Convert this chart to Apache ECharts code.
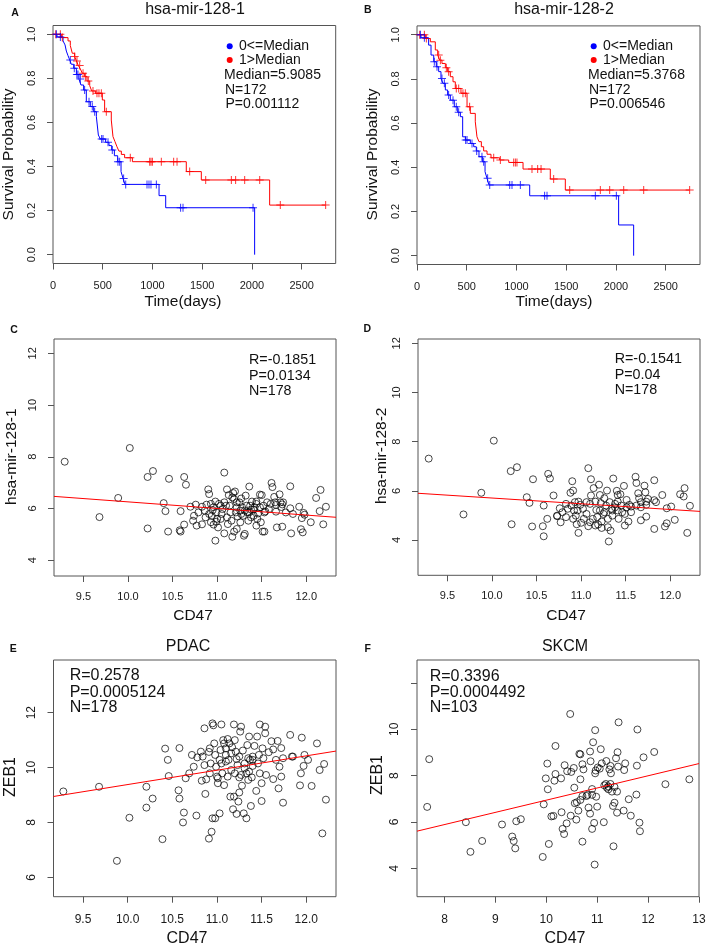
<!DOCTYPE html>
<html><head><meta charset="utf-8">
<script src="https://cdn.jsdelivr.net/npm/echarts@6/dist/echarts.min.js"></script>
<style>html,body{margin:0;padding:0;background:#fff}#c{width:707px;height:947px}</style>
</head><body><div id="c"></div>
<script>
// ---------------- DATA ----------------
// Kaplan-Meier step curves (time in days, survival probability)
const kmA_redT  = [0,84,151,174,194,218,235,255,275,295,318,342,369,389,429,496,519,586,603,623,643,663,687,720,798,1340,1491,2178,2741];
const kmA_redS  = [1.0,0.985,0.970,0.949,0.914,0.899,0.879,0.858,0.843,0.823,0.808,0.788,0.767,0.743,0.732,0.702,0.649,0.611,0.536,0.513,0.490,0.470,0.455,0.440,0.422,0.377,0.339,0.225,0.225];
const kmA_redC  = [27,74,94,218,241,268,302,328,355,402,442,462,486,536,777,972,985,999,1089,1213,1247,1374,1535,1793,1836,1927,2078,2285,2741];
const kmA_blueT = [0,40,101,121,134,151,168,184,208,235,261,281,308,335,375,409,436,456,476,529,563,590,617,650,684,704,724,1066,1133,2027];
const kmA_blueS = [1.0,0.988,0.970,0.952,0.924,0.903,0.884,0.864,0.846,0.818,0.797,0.770,0.747,0.694,0.672,0.649,0.626,0.543,0.525,0.510,0.495,0.475,0.449,0.422,0.377,0.346,0.319,0.268,0.213,0.0];
const kmA_blueC = [34,74,174,214,240,251,275,318,362,395,419,489,503,553,596,653,670,710,731,945,965,985,1039,1283,1307,2011];

const kmB_redT  = [0,84,134,184,208,228,251,285,308,335,362,385,442,503,536,586,603,623,647,670,704,744,831,922,1066,1340,1491,2741];
const kmB_redS  = [1.0,0.983,0.968,0.931,0.908,0.885,0.870,0.851,0.833,0.810,0.787,0.757,0.735,0.674,0.644,0.606,0.538,0.516,0.493,0.474,0.459,0.443,0.433,0.422,0.392,0.347,0.297,0.297];
const kmB_redC  = [27,74,94,218,235,295,318,395,419,462,486,529,771,838,972,989,1005,1156,1213,1247,1374,1535,1843,1937,2078,2279,2741];
const kmB_blueT = [0,40,117,141,168,194,218,241,261,285,308,335,375,409,436,459,486,536,570,596,623,657,684,704,724,1133,2027,2178];
const kmB_blueS = [1.0,0.986,0.953,0.908,0.878,0.855,0.833,0.802,0.780,0.750,0.727,0.704,0.674,0.649,0.629,0.538,0.523,0.508,0.493,0.474,0.448,0.425,0.380,0.350,0.320,0.271,0.139,0.0];
const kmB_blueC = [34,74,174,201,251,275,318,362,395,419,489,503,553,600,653,670,710,731,932,955,1039,1283,1307,1793,2004];

// Scatter points [CD47, expression]
const ptsC = [
[9.29,7.81],[9.68,5.67],[9.89,6.41],[10.02,8.34],[10.22,7.22],[10.28,7.45],[10.22,5.23],[10.40,6.21],[10.42,5.90],[10.46,7.15],
[10.45,5.11],[10.63,7.22],[10.65,6.92],[10.59,5.90],[10.58,5.16],[10.59,5.11],[10.63,5.38],[10.70,6.07],[10.73,5.53],[10.76,6.15],
[10.74,5.72],[10.77,5.34],[10.79,5.85],[10.83,5.39],[10.83,6.07],[10.86,5.92],[10.88,6.15],[10.90,6.74],[10.91,6.56],[10.93,6.18],
[10.95,5.94],[10.93,5.47],[10.96,5.38],[10.98,4.76],[10.98,6.27],[10.99,5.85],[11.00,5.60],[11.01,5.27],[11.04,6.11],[11.05,5.79],
[11.08,7.39],[11.08,5.04],[11.08,6.24],[11.11,6.74],[11.13,6.52],[11.14,6.11],[11.15,5.85],[11.16,5.53],[11.17,4.91],[11.18,6.60],
[11.19,6.37],[11.20,6.66],[11.22,6.05],[11.19,5.11],[11.22,5.21],[11.23,5.69],[11.25,6.24],[11.26,5.92],[11.26,5.47],[11.27,6.39],
[11.29,5.72],[11.30,4.95],[11.31,5.02],[11.32,6.50],[11.33,6.11],[11.34,5.85],[11.35,5.53],[11.36,6.85],[11.37,6.11],[11.38,5.66],
[11.39,6.27],[11.41,5.96],[11.42,6.05],[11.44,5.34],[11.44,6.27],[11.46,5.81],[11.48,6.54],[11.50,6.52],[11.49,5.47],[11.51,5.11],
[11.53,5.11],[11.52,6.11],[11.54,5.89],[11.56,6.24],[11.58,5.98],[11.61,6.99],[11.62,6.83],[11.64,6.45],[11.65,6.24],[11.66,5.88],
[11.67,5.27],[11.70,6.55],[11.71,6.24],[11.72,6.06],[11.73,6.16],[11.73,5.30],[11.82,6.86],[11.82,6.01],[11.83,5.04],[11.85,5.79],
[11.92,6.07],[11.94,5.20],[11.96,5.08],[11.95,5.63],[11.97,5.83],[11.98,5.76],[12.05,5.47],[12.11,6.41],[12.15,5.90],[12.16,6.72],
[12.19,5.39],[12.22,6.07],
[10.87,5.66],[10.91,5.79],[10.96,6.05],[11.02,6.18],[11.06,5.98],[11.11,5.66],[11.12,5.40],[11.21,5.85],[11.28,6.05],[11.31,5.92],
[11.38,5.96],[11.41,5.72],[11.45,5.60],[11.48,6.05],[11.53,5.85],[11.60,6.18],[11.66,6.14],[11.74,6.24],[11.77,5.85],[11.22,6.24],
[11.17,6.43],[11.04,5.60],[10.94,5.72],[10.99,5.49],[11.10,6.11],[11.27,5.79],[11.36,5.85],[11.44,6.18]
];
const ptsD = [
[9.29,7.31],[9.68,5.04],[9.88,5.92],[10.02,8.04],[10.21,6.80],[10.28,6.96],[10.22,4.64],[10.39,5.74],[10.42,5.51],[10.46,6.47],
[10.45,4.55],[10.63,6.69],[10.65,6.50],[10.58,5.40],[10.57,4.56],[10.58,4.15],[10.62,4.86],[10.69,5.81],[10.73,4.97],[10.76,5.29],
[10.73,4.99],[10.77,4.72],[10.79,5.13],[10.83,4.93],[10.83,5.47],[10.88,5.92],[10.90,6.39],[10.91,6.01],[10.93,5.54],[10.92,5.20],
[10.94,4.99],[10.95,4.64],[10.97,4.29],[10.97,5.56],[10.99,5.43],[11.00,4.70],[11.03,4.86],[11.08,6.92],[11.08,4.56],[11.11,6.47],
[11.11,5.81],[11.14,6.11],[11.16,5.56],[11.17,5.22],[11.18,4.93],[11.19,4.63],[11.20,6.25],[11.21,5.83],[11.22,5.50],[11.23,4.75],
[11.25,5.06],[11.26,5.70],[11.28,5.40],[11.29,6.01],[11.30,4.52],[11.31,3.94],[11.33,4.38],[11.36,6.50],[11.34,5.27],[11.35,4.99],
[11.38,5.47],[11.40,6.00],[11.41,5.56],[11.42,4.86],[11.44,5.86],[11.46,5.13],[11.48,6.20],[11.49,4.59],[11.51,5.63],[11.53,4.75],
[11.54,5.43],[11.56,5.36],[11.61,6.57],[11.62,6.32],[11.64,5.90],[11.65,5.70],[11.67,5.33],[11.67,4.80],[11.71,6.21],[11.72,5.94],
[11.73,5.56],[11.73,5.43],[11.73,4.95],[11.82,6.43],[11.82,5.62],[11.82,4.45],[11.84,5.54],[11.91,5.83],[11.94,4.55],[11.96,4.68],
[11.96,5.29],[12.01,5.36],[12.05,4.82],[12.11,5.86],[12.15,5.77],[12.16,6.11],[12.19,4.29],[12.22,5.39],
[10.85,5.27],[10.89,5.40],[10.96,5.20],[11.02,5.27],[11.06,5.06],[11.10,5.47],[11.13,4.86],[11.21,5.20],[11.26,5.13],[11.32,5.54],
[11.38,5.33],[11.41,5.20],[11.45,5.40],[11.49,5.06],[11.56,5.13],[11.62,5.40],[11.67,5.54],[11.75,5.67],[11.06,5.54],[11.16,4.59],
[11.23,4.49],[11.35,5.20],[11.30,4.86],[11.41,5.83],[11.51,5.33],[10.91,4.86],[11.10,4.72]
];
const ptsE = [
[9.28,9.13],[9.68,9.30],[10.02,8.17],[9.88,6.60],[10.21,9.30],[10.21,8.54],[10.28,8.87],[10.39,7.39],[10.42,10.69],[10.45,10.28],
[10.46,9.69],[10.57,9.17],[10.58,10.71],[10.58,8.87],[10.63,8.36],[10.62,8.00],[10.65,9.61],[10.69,9.79],[10.72,10.46],[10.74,10.03],
[10.77,8.25],[10.78,10.37],[10.82,10.58],[10.83,9.52],[10.84,10.40],[10.86,10.09],[10.87,9.04],[10.86,11.43],[10.88,9.57],[10.91,10.57],
[10.92,9.79],[10.92,10.70],[10.91,7.41],[10.94,7.66],[10.95,11.61],[10.96,11.54],[10.97,10.88],[10.98,8.15],[10.95,8.15],[10.98,10.46],
[10.99,10.03],[11.00,9.67],[11.01,9.43],[11.03,10.28],[11.04,10.64],[11.05,11.57],[11.06,9.79],[11.08,9.36],[11.08,10.88],[11.10,10.22],
[11.10,10.70],[11.12,11.04],[11.13,10.28],[11.15,8.94],[11.16,9.91],[11.17,10.74],[11.18,8.48],[11.19,8.94],[11.19,11.57],[11.20,11.00],
[11.22,10.31],[11.22,8.31],[11.24,8.76],[11.25,9.09],[11.25,9.64],[11.26,11.31],[11.27,11.49],[11.28,9.34],[11.29,10.62],[11.30,8.33],
[11.31,10.15],[11.33,8.15],[11.33,9.79],[11.34,10.82],[11.35,10.34],[11.36,11.13],[11.37,10.28],[11.38,8.60],[11.39,9.64],[11.40,10.40],
[11.42,10.79],[11.44,9.15],[11.45,11.13],[11.47,10.46],[11.48,11.57],[11.50,8.78],[11.51,10.70],[11.50,9.43],[11.52,10.34],[11.54,11.49],
[11.54,11.25],[11.55,9.73],[11.58,10.56],[11.61,10.96],[11.63,10.66],[11.63,9.58],[11.66,10.28],[11.68,10.97],[11.69,9.24],[11.70,10.03],
[11.72,10.71],[11.72,9.67],[11.74,8.72],[11.74,10.34],[11.82,11.19],[11.84,10.40],[11.85,10.40],[11.93,9.35],[11.94,9.79],[11.95,11.09],
[11.97,10.06],[11.98,10.46],[12.02,10.28],[12.06,9.33],[12.12,10.88],[12.15,9.91],[12.18,7.60],[12.20,10.13],[12.22,8.83],
[11.10,10.46],[11.16,10.52],[11.21,10.58],[11.23,10.09],[11.31,9.97],[11.36,9.85],[11.40,10.06],[11.05,10.15],[11.12,9.67],[11.07,11.00],
[11.14,10.88],[11.27,9.73],[11.40,10.28],[11.48,9.79],[11.25,10.40],[11.01,9.61],[10.93,10.15],[11.20,9.79],[11.35,9.55],[11.46,10.15],
[11.03,8.33]
];
const ptsF = [
[7.70,8.71],[7.66,6.65],[8.42,5.99],[8.51,4.71],[8.74,5.18],[9.13,5.89],[9.33,5.37],[9.36,5.18],[9.39,4.86],[9.41,6.03],
[9.50,6.12],[9.93,4.49],[9.95,6.76],[9.99,7.88],[10.02,8.52],[10.03,7.41],[10.05,5.05],[10.10,6.24],[10.14,6.26],[10.18,9.28],
[10.18,8.07],[10.16,7.78],[10.29,7.88],[10.30,6.42],[10.32,5.70],[10.35,5.48],[10.36,8.45],[10.40,5.94],[10.41,8.19],[10.48,6.27],
[10.47,10.66],[10.49,8.16],[10.54,8.33],[10.55,7.48],[10.56,6.81],[10.59,6.10],[10.60,6.85],[10.63,6.49],[10.65,8.94],[10.67,8.92],
[10.67,7.84],[10.67,6.95],[10.71,8.49],[10.71,5.15],[10.73,8.27],[10.71,7.12],[10.81,7.17],[10.83,6.62],[10.86,6.36],[10.87,8.62],
[10.86,9.04],[10.90,7.42],[10.90,7.17],[10.90,5.70],[10.92,9.44],[10.94,5.96],[10.95,4.16],[10.96,9.96],[10.96,8.10],[10.97,8.22],
[10.98,7.09],[11.00,6.66],[11.05,8.30],[11.07,9.14],[11.09,8.53],[11.13,5.99],[11.14,7.58],[11.17,7.64],[11.18,8.63],[11.19,7.48],
[11.22,7.53],[11.24,8.27],[11.26,8.42],[11.27,8.10],[11.31,6.69],[11.32,4.95],[11.34,6.83],[11.34,7.51],[11.37,8.75],[11.39,7.31],
[11.40,9.01],[11.39,6.40],[11.42,10.30],[11.41,8.39],[11.52,6.49],[11.53,8.24],[11.55,8.53],[11.62,6.98],[11.66,6.27],[11.77,7.18],
[11.78,8.43],[11.79,9.99],[11.83,5.97],[11.84,5.60],[11.91,8.79],[12.12,9.02],[12.34,7.63],[12.81,7.84],[11.22,7.41],[11.29,7.31],
[11.26,7.64],[11.01,8.35],[10.79,7.12]
];
// regression lines [intercept, slope]
const fitC = [8.811, -0.2553];
const fitD = [8.039, -0.2332];
const fitE = [4.148, 0.5232];
const fitF = [1.674, 0.5266];

// tick values
const ticksKMx = [0,500,1000,1500,2000,2500];
const ticksKMy = [0,0.2,0.4,0.6,0.8,1.0];
const ticksCDx = [9.5,10,10.5,11,11.5,12];
const ticksCDy = [4,6,8,10,12];
const ticksEy  = [6,8,10,12];
const ticksFx  = [8,9,10,11,12,13];
const ticksFy  = [4,6,8,10,12];
const labelsFy = [4,6,8,10];

// texts
const titles = ['hsa-mir-128-1','hsa-mir-128-2','PDAC','SKCM'];
const legendKM = ['0<=Median','1>Median'];
const statsA = ['Median=5.9085','N=172','P=0.001112'];
const statsB = ['Median=5.3768','N=172','P=0.006546'];
const statsC = ['R=-0.1851','P=0.0134','N=178'];
const statsD = ['R=-0.1541','P=0.04','N=178'];
const statsE = ['R=0.2578','P=0.0005124','N=178'];
const statsF = ['R=0.3396','P=0.0004492','N=103'];

// ---------------- CHART ----------------
const FONT = "'Liberation Sans', Arial, Helvetica, sans-serif";
const BOX = '#555555';
const RED = '#ff0000', BLUE = '#0000ff';
const PLUS = 'path://M3.5,0h1v3.5h3.5v1h-3.5v3.5h-1v-3.5h-3.5v-1h3.5z';

const grids = [
  {left:53,   top:25.5, width:282.7, height:238},
  {left:417,  top:25.9, width:283,   height:238.6},
  {left:54,   top:339,  width:282,   height:237},
  {left:418,  top:339,  width:282,   height:236.3},
  {left:53.5, top:660,  width:282.5, height:236.7},
  {left:417,  top:660,  width:282,   height:236.7}
].map(g => Object.assign({show:true, borderColor:BOX, borderWidth:1, backgroundColor:'transparent', containLabel:false, outerBoundsMode:'none'}, g));

const f1 = v => Number(v).toFixed(1);
const f0 = v => String(Math.round(v));

function mkX(gi, min, max, ticks, fmt, fs, margin){
  return {type:'value', gridIndex:gi, min:min, max:max, position:'bottom',
    axisLine:{show:false, onZero:false}, splitLine:{show:false},
    axisTick:{show:true, inside:false, length:6, customValues:ticks, lineStyle:{color:BOX, width:1}},
    axisLabel:{show:true, customValues:ticks, formatter:fmt, fontSize:fs, fontFamily:FONT, color:'#1a1a1a', margin:margin}};
}
function mkY(gi, min, max, ticks, labels, fmt, fs, margin){
  return {type:'value', gridIndex:gi, min:min, max:max, position:'left',
    axisLine:{show:false, onZero:false}, splitLine:{show:false},
    axisTick:{show:true, inside:false, length:6, customValues:ticks, lineStyle:{color:BOX, width:1}},
    axisLabel:{show:true, customValues:labels, formatter:fmt, rotate:90, fontSize:fs, fontFamily:FONT, color:'#1a1a1a', margin:margin}};
}

const xAxes = [
  mkX(0, 0, 2842, ticksKMx, f0, 11, 16.5),
  mkX(1, 0, 2845, ticksKMx, f0, 11, 16.5),
  mkX(2, 9.17, 12.333, ticksCDx, f1, 11, 15.5),
  mkX(3, 9.17, 12.333, ticksCDx, f1, 11, 15.5),
  mkX(4, 9.17, 12.333, ticksCDx, f1, 12, 17),
  mkX(5, 7.46, 13.0, ticksFx, f0, 12, 17)
];
const yAxes = [
  mkY(0, -0.04, 1.04, ticksKMy, ticksKMy, f1, 11, 15.5),
  mkY(1, -0.04, 1.04, ticksKMy, ticksKMy, f1, 11, 15.5),
  mkY(2, 3.393, 12.553, ticksCDy, ticksCDy, f0, 11, 15.5),
  mkY(3, 2.564, 12.175, ticksCDy, ticksCDy, f0, 11, 15.5),
  mkY(4, 5.293, 13.92, ticksEy, ticksEy, f0, 12, 15.5),
  mkY(5, 2.774, 12.99, ticksFy, labelsFy, f0, 12, 16.5)
];

function survAt(T, S, t){ let s = S[0]; for (let i = 0; i < T.length; i++){ if (T[i] <= t) s = S[i]; } return s; }

const series = [];
function km(gi, T, S, C, color){
  series.push({type:'line', xAxisIndex:gi, yAxisIndex:gi, step:'end', symbol:'none', showSymbol:false,
    data:T.map((t,i)=>[t,S[i]]), lineStyle:{color:color, width:1}, itemStyle:{color:color}, silent:true, animation:false, z:2});
  series.push({type:'scatter', xAxisIndex:gi, yAxisIndex:gi, symbol:PLUS, symbolSize:8,
    data:C.map(t=>[t, survAt(T,S,t)]), itemStyle:{color:color}, silent:true, animation:false, z:3});
}
function sc(gi, pts, fit, xmin, xmax){
  series.push({type:'scatter', xAxisIndex:gi, yAxisIndex:gi, symbol:'circle', symbolSize:7, data:pts,
    itemStyle:{color:'rgba(0,0,0,0)', borderColor:'#000', borderWidth:0.9}, silent:true, animation:false, z:2});
  series.push({type:'line', xAxisIndex:gi, yAxisIndex:gi, symbol:'none', showSymbol:false,
    data:[[xmin, fit[0]+fit[1]*xmin],[xmax, fit[0]+fit[1]*xmax]],
    lineStyle:{color:RED, width:1}, silent:true, animation:false, z:3});
}
km(0, kmA_redT, kmA_redS, kmA_redC, RED);
km(0, kmA_blueT, kmA_blueS, kmA_blueC, BLUE);
km(1, kmB_redT, kmB_redS, kmB_redC, RED);
km(1, kmB_blueT, kmB_blueS, kmB_blueC, BLUE);
sc(2, ptsC, fitC, 9.17, 12.333);
sc(3, ptsD, fitD, 9.17, 12.333);
sc(4, ptsE, fitE, 9.17, 12.333);
sc(5, ptsF, fitF, 7.46, 13.0);

// ---------- text graphics ----------
const G = [];
function txt(x, y, s, size, o){
  o = o || {};
  G.push({type:'text', x:x, y:y, rotation:o.rot||0, silent:true, z:10,
    style:{text:s, x:0, y:0, fontSize:size, fontFamily:FONT, fontWeight:o.bold?'bold':'normal', fill:'#111',
      textAlign:o.align||'left', align:o.align||'left', textVerticalAlign:'middle', verticalAlign:'middle'}});
}
function dot(x, y, color){
  G.push({type:'circle', shape:{cx:x, cy:y, r:3}, style:{fill:color}, silent:true, z:10});
}
const R90 = Math.PI/2;
// panel letters
txt(15, 13.3, 'A', 10.5, {bold:true, align:'center'});
txt(367.7, 9.7, 'B', 10.5, {bold:true, align:'center'});
txt(14, 330, 'C', 10.5, {bold:true, align:'center'});
txt(367.3, 329.3, 'D', 10.5, {bold:true, align:'center'});
txt(13.3, 649.3, 'E', 10.5, {bold:true, align:'center'});
txt(367.7, 648.7, 'F', 10.5, {bold:true, align:'center'});
// titles
txt(195, 9.5, titles[0], 16, {align:'center'});
txt(564, 9.5, titles[1], 16, {align:'center'});
txt(188, 647, titles[2], 16, {align:'center'});
txt(565, 646.3, titles[3], 16, {align:'center'});
// axis titles
txt(183, 301.5, 'Time(days)', 15.5, {align:'center'});
txt(554, 301.5, 'Time(days)', 15.5, {align:'center'});
txt(193, 616, 'CD47', 15.5, {align:'center'});
txt(566, 616, 'CD47', 15.5, {align:'center'});
txt(187, 939, 'CD47', 16, {align:'center'});
txt(565, 939, 'CD47', 16, {align:'center'});
txt(8.5, 154.5, 'Survival Probability', 15.5, {align:'center', rot:R90});
txt(373, 154.5, 'Survival Probability', 15.5, {align:'center', rot:R90});
txt(12, 456.7, 'hsa-mir-128-1', 15.5, {align:'center', rot:R90});
txt(382, 455.8, 'hsa-mir-128-2', 15.5, {align:'center', rot:R90});
txt(11, 777, 'ZEB1', 16, {align:'center', rot:R90});
txt(378, 775, 'ZEB1', 16, {align:'center', rot:R90});
// KM legends
[[53, statsA],[417, statsB]].forEach(([gx, st]) => {
  dot(gx+176.7, 46.3, BLUE); dot(gx+176.7, 59.9, RED);
  txt(gx+186, 46.3, legendKM[0], 14);
  txt(gx+186, 60.3, legendKM[1], 14);
  txt(gx+171, 75.3, st[0], 14);
  txt(gx+172, 89.7, st[1], 14);
  txt(gx+172.5, 104.5, st[2], 14);
});
// correlation stats
[[249, [360.3,375.7,390.7], statsC, 14.3],[614.7, [359.5,375.2,390.2], statsD, 14.3],
 [69.7, [675.5,692.5,707.7], statsE, 16],[429.7, [676.3,692.8,707.5], statsF, 16]].forEach(([x, ys, st, fs]) => {
  st.forEach((s, i) => txt(x, ys[i], s, fs));
});

const chart = echarts.init(document.getElementById('c'), null, {renderer:'canvas', width:707, height:947});
chart.setOption({
  animation:false,
  backgroundColor:'#ffffff',
  textStyle:{fontFamily:FONT},
  grid:grids, xAxis:xAxes, yAxis:yAxes, series:series, graphic:{elements:G}
});
</script></body></html>
